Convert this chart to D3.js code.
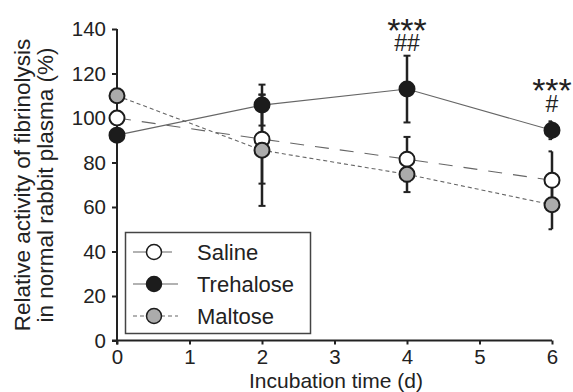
<!DOCTYPE html>
<html>
<head>
<meta charset="utf-8">
<script src="https://cdn.jsdelivr.net/npm/d3@7"></script>
<style>
  body { margin: 0; background: #fff; }
  svg text { font-family: "Liberation Sans", Arial, sans-serif; fill: #222; }
</style>
</head>
<body>
<div class="chart"></div>
<script>
// incubation days
const days = [0, 2, 4, 6];
// mean values (%) and SD
const saline = [100, 90.5, 81.5, 72];
const salineErr = [0, 20, 10, 13];
const trehalose = [92.3, 105.8, 113, 94.5];
const trehaloseErr = [0, 9.2, 15, 4];
const maltose = [110, 85.5, 74.7, 61];
const maltoseErr = [0, 25, 8, 11];
const xTicks = [0, 1, 2, 3, 4, 5, 6];
const yTicks = [0, 20, 40, 60, 80, 100, 120, 140];
const marks = [
  { day: 4, stars: '***', hash: '##' },
  { day: 6, stars: '***', hash: '#' }
];

const width = 573, height = 392;
const svg = d3.select('.chart').append('svg')
  .attr('width', width)
  .attr('height', height);

const x = d3.scaleLinear().domain([0, 6]).range([117, 552]);
const y = d3.scaleLinear().domain([0, 140]).range([340.5, 29]);

const series = [
  { name: 'Saline', vals: saline, err: salineErr, fill: '#fff', dash: '14,11' },
  { name: 'Trehalose', vals: trehalose, err: trehaloseErr, fill: '#1c1c1c', dash: null },
  { name: 'Maltose', vals: maltose, err: maltoseErr, fill: '#ababab', dash: '4,3' }
];

// axes
const yAxis = svg.append('g')
  .attr('transform', 'translate(117,0)')
  .call(d3.axisLeft(y).tickValues(yTicks).tickSize(5).tickPadding(6).tickFormat(d3.format('d')));
const xAxis = svg.append('g')
  .attr('transform', `translate(0,${y(0)})`)
  .call(d3.axisBottom(x).tickValues(xTicks).tickSize(4).tickPadding(5).tickFormat(d3.format('d')));
[yAxis, xAxis].forEach(g => {
  g.select('.domain').remove();
  g.selectAll('line').attr('stroke', '#222').attr('stroke-width', 2);
  g.selectAll('text').attr('font-size', 20.5).attr('fill', '#222')
    .attr('font-family', '"Liberation Sans", Arial, sans-serif');
});
svg.append('line').attr('x1', 117).attr('x2', 117).attr('y1', y(140)).attr('y2', y(0) + 4)
  .attr('stroke', '#222').attr('stroke-width', 2);
svg.append('line').attr('x1', 112).attr('x2', x(6)).attr('y1', y(0)).attr('y2', y(0))
  .attr('stroke', '#222').attr('stroke-width', 2);

// connecting lines
const line = d3.line().x((d, i) => x(days[i])).y(d => y(d));
series.forEach(s => {
  svg.append('path')
    .attr('d', line(s.vals))
    .attr('fill', 'none')
    .attr('stroke', '#666')
    .attr('stroke-width', 1.1)
    .attr('stroke-dasharray', s.dash);
});

// error bars
series.forEach(s => {
  s.vals.forEach((v, i) => {
    const e = s.err[i];
    if (!e) return;
    const cx = x(days[i]);
    const cl = 3.5;
    const cr = days[i] === 6 ? 0 : 3.5;
    svg.append('line').attr('x1', cx).attr('x2', cx).attr('y1', y(v - e)).attr('y2', y(v + e))
      .attr('stroke', '#222').attr('stroke-width', 2.5);
    [v - e, v + e].forEach(t => {
      svg.append('line').attr('x1', cx - cl).attr('x2', cx + cr).attr('y1', y(t)).attr('y2', y(t))
        .attr('stroke', '#222').attr('stroke-width', 2);
    });
  });
});

// points
series.forEach(s => {
  svg.append('g').selectAll('circle')
    .data(s.vals)
    .join('circle')
    .attr('cx', (d, i) => x(days[i]))
    .attr('cy', d => y(d))
    .attr('r', 7.5)
    .attr('fill', s.fill)
    .attr('stroke', '#1c1c1c')
    .attr('stroke-width', 2);
});

// significance marks (stars over hashes, one text each)
marks.forEach(m => {
  const t = svg.append('text').attr('text-anchor', 'middle');
  t.append('tspan').attr('x', x(m.day)).attr('y', m.day === 4 ? 42 : 102)
    .attr('font-size', 34).text(m.stars);
  t.append('tspan').attr('x', x(m.day)).attr('y', m.day === 4 ? 51 : 112)
    .attr('font-size', 23).text(m.hash);
});

// legend
const lg = svg.append('g');
lg.append('rect').attr('x', 125.5).attr('y', 232.5).attr('width', 185).attr('height', 101)
  .attr('fill', '#fff').attr('stroke', '#444').attr('stroke-width', 1.5);
const rowY = [252, 284, 316];
series.forEach((s, i) => {
  lg.append('line').attr('x1', 133).attr('x2', 178).attr('y1', rowY[i]).attr('y2', rowY[i])
    .attr('stroke', '#666').attr('stroke-width', 1.1).attr('stroke-dasharray', s.dash);
  lg.append('circle').attr('cx', 154).attr('cy', rowY[i]).attr('r', 7.5)
    .attr('fill', s.fill).attr('stroke', '#1c1c1c').attr('stroke-width', 1.5);
  lg.append('text').attr('x', 197).attr('y', rowY[i] + 8).attr('font-size', 22).text(s.name);
});

// axis titles
svg.append('text').attr('x', 336).attr('y', 387.5).attr('text-anchor', 'middle')
  .attr('font-size', 21).text('Incubation time (d)');
const yt = svg.append('text').attr('transform', 'translate(30,185) rotate(-90)')
  .attr('text-anchor', 'middle').attr('font-size', 22.5);
yt.append('tspan').attr('x', 0).attr('dy', 0).text('Relative activity of fibrinolysis');
yt.append('tspan').attr('x', 0).attr('dy', 23).text('in normal rabbit plasma (%)');
</script>
</body>
</html>
